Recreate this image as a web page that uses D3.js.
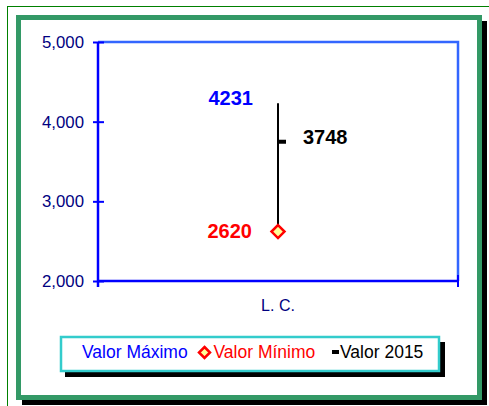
<!DOCTYPE html>
<html>
<head>
<meta charset="utf-8">
<script src="https://cdn.jsdelivr.net/npm/d3@7"></script>
<style>
html,body{margin:0;padding:0;background:#fff;}
svg{display:block;font-family:Arial,"Liberation Sans",sans-serif;}
</style>
</head>
<body>
<svg id="chart" width="489" height="406"></svg>
<script>
const categories = ["L. C."];
const maxValues = [4231];
const minValues = [2620];
const values2015 = [3748];
const yTicks = [2000, 3000, 4000, 5000];
const legendLabels = ["Valor Máximo", "Valor Mínimo", "Valor 2015"];

const svg = d3.select("#chart");

// outer thin border
svg.append("rect").attr("x", 7.5).attr("y", 6.5).attr("width", 500).attr("height", 420)
  .attr("fill", "none").attr("stroke", "#008000").attr("stroke-width", 1);
// frame shadow
svg.append("rect").attr("x", 22).attr("y", 21).attr("width", 465).attr("height", 384).attr("fill", "#000");
// frame
svg.append("rect").attr("x", 18.5).attr("y", 17.5).attr("width", 461).attr("height", 380)
  .attr("fill", "#fff").attr("stroke", "#339966").attr("stroke-width", 5);

const plot = {left: 98, right: 458, top: 42, bottom: 281};
const y = d3.scaleLinear().domain([2000, 5000]).range([plot.bottom, plot.top]);
const x = d3.scaleBand().domain(categories).range([plot.left, plot.right]);

// top and right border
svg.append("path")
  .attr("d", `M${plot.left},${plot.top}H${plot.right}V${plot.bottom}`)
  .attr("fill", "none").attr("stroke", "#3366ff").attr("stroke-width", 2.5);

// y axis
const yAxis = d3.axisLeft(y).tickValues(yTicks).tickFormat(d3.format(",")).tickSize(0).tickPadding(14);
const yg = svg.append("g").attr("transform", `translate(${plot.left},0)`).call(yAxis);
yg.select(".domain").remove();
yg.selectAll("text").attr("font-size", 16.8).attr("fill", "#000080").attr("font-family", "Arial, 'Liberation Sans', sans-serif");
yg.selectAll(".tick").append("line").attr("x1", -5).attr("x2", 6).attr("stroke", "#0000ff").attr("stroke-width", 2);
svg.append("line").attr("x1", plot.left).attr("x2", plot.left).attr("y1", plot.top).attr("y2", plot.bottom + 6)
  .attr("stroke", "#0000ff").attr("stroke-width", 2.5);

// x axis
svg.append("line").attr("x1", plot.left).attr("x2", plot.right).attr("y1", plot.bottom).attr("y2", plot.bottom)
  .attr("stroke", "#0000ff").attr("stroke-width", 2.5);
const edges = [x.range()[0], x.range()[1]];
svg.selectAll(".xedge").data(edges).enter().append("line")
  .attr("x1", d => d).attr("x2", d => d).attr("y1", plot.bottom - 6).attr("y2", plot.bottom + 6)
  .attr("stroke", "#0000ff").attr("stroke-width", 2);
svg.selectAll(".xlab").data(categories).enter().append("text")
  .attr("x", d => x(d) + x.bandwidth() / 2).attr("y", plot.bottom + 30)
  .attr("text-anchor", "middle").attr("font-size", 16).attr("fill", "#000080").text(d => d);

// data
categories.forEach((c, i) => {
  const cx = x(c) + x.bandwidth() / 2;
  svg.append("line").attr("x1", cx).attr("x2", cx).attr("y1", y(maxValues[i])).attr("y2", y(minValues[i]))
    .attr("stroke", "#000").attr("stroke-width", 2);
  svg.append("rect").attr("x", cx).attr("y", y(values2015[i]) - 2).attr("width", 8).attr("height", 4).attr("fill", "#000");
  const yy = y(minValues[i]);
  svg.append("path").attr("d", `M${cx},${yy - 6.5}L${cx + 6.5},${yy}L${cx},${yy + 6.5}L${cx - 6.5},${yy}Z`)
    .attr("fill", "#ffff99").attr("stroke", "#ff0000").attr("stroke-width", 2.5);
  svg.append("text").attr("x", cx - 25).attr("y", y(maxValues[i]) + 2).attr("text-anchor", "end")
    .attr("font-size", 20).attr("font-weight", "bold").attr("fill", "#0000ff").text(maxValues[i]);
  svg.append("text").attr("x", cx - 26).attr("y", y(minValues[i]) + 6).attr("text-anchor", "end")
    .attr("font-size", 20).attr("font-weight", "bold").attr("fill", "#ff0000").text(minValues[i]);
  svg.append("text").attr("x", cx + 25).attr("y", y(values2015[i]) + 2.5).attr("text-anchor", "start")
    .attr("font-size", 20).attr("font-weight", "bold").attr("fill", "#000").text(values2015[i]);
});

// legend
svg.append("rect").attr("x", 65).attr("y", 342).attr("width", 380).attr("height", 35).attr("fill", "#000");
svg.append("rect").attr("x", 61).attr("y", 337).attr("width", 378).attr("height", 34)
  .attr("fill", "#fff").attr("stroke", "#33cccc").attr("stroke-width", 2.5);
const lg = svg.append("g").attr("font-size", 17.5);
lg.append("text").attr("x", 82).attr("y", 358).attr("fill", "#0000ff").text(legendLabels[0]);
lg.append("path").attr("d", "M204.5,347L210,352.5L204.5,358L199,352.5Z")
  .attr("fill", "#ffff99").attr("stroke", "#ff0000").attr("stroke-width", 2.5);
lg.append("text").attr("x", 213.5).attr("y", 358).attr("fill", "#ff0000").text(legendLabels[1]);
lg.append("rect").attr("x", 332).attr("y", 350).attr("width", 7).attr("height", 4).attr("fill", "#000");
lg.append("text").attr("x", 340).attr("y", 358).attr("fill", "#000").text(legendLabels[2]);
</script>
</body>
</html>
